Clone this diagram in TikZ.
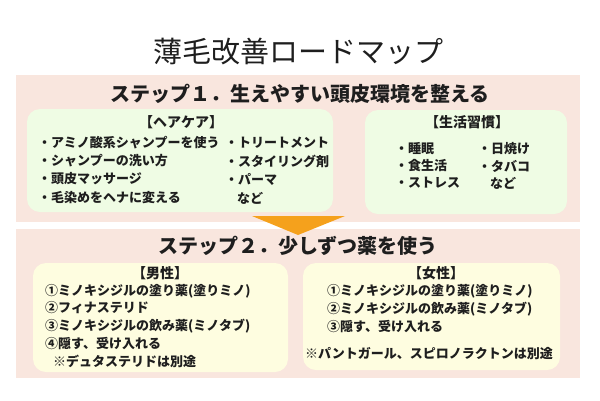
\documentclass[tikz,border=0pt]{standalone}
\usepackage{fontspec}
\setmainfont{Noto Sans CJK JP}
\usepackage{xcolor}
\usetikzlibrary{positioning}
\definecolor{bandpink}{HTML}{F9E6DE}
\definecolor{boxgreen}{HTML}{EFFCE4}
\definecolor{boxyellow}{HTML}{FEFDE0}
\definecolor{arroworange}{HTML}{F5A11C}
\definecolor{inkgray}{HTML}{1E1E1E}

\begin{document}
\begin{tikzpicture}[x=1pt, y=-1pt, every node/.style={inner sep=0pt, text=inkgray},
	carebox/.style={fill=boxgreen, rounded corners=13pt},
	medbox/.style={fill=boxyellow, rounded corners=13pt},
	item/.style={anchor=west, font=\bfseries\fontsize{13}{15}\selectfont},
	header/.style={font=\bfseries\fontsize{14}{16}\selectfont},
	steptitle/.style={font=\bfseries\fontsize{20}{22}\selectfont}]
					
					\useasboundingbox (0,0) rectangle (600,400);
					
					% Bands
					\fill[bandpink] (16,75) rectangle (580,222);
					\fill[bandpink] (16,229) rectangle (580,378);
					
					% Boxes
					\fill[carebox] (27,109) rectangle (333,212);
					\fill[carebox] (365,110) rectangle (567,214);
					\fill[medbox] (33,263) rectangle (288,372);
					\fill[medbox] (303,263) rectangle (560,370);
					
					% Arrow
					\fill[arroworange] (252,216) -- (345,216) -- (298,235) -- cycle;
					
					% Titles
					\node[font=\fontsize{29}{32}\selectfont] (title) at (298,52) {薄毛改善ロードマップ};
					\node[steptitle] (step1) at (300,94) {ステップ１．生えやすい頭皮環境を整える};
					\node[steptitle] (step2) at (298,246) {ステップ２．少しずつ薬を使う};
					
					% Nodes in care box
					\node[header] (care) at (181,122) {【ヘアケア】};
					\node[item] (care1) at (38,143) {・アミノ酸系シャンプーを使う};
					\node[item] (care2) at (38,161) {・シャンプーの洗い方};
					\node[item] (care3) at (38,179) {・頭皮マッサージ};
					\node[item] (care4) at (38,198) {・毛染めをヘナに変える};
					\node[item] (care5) at (225,143) {・トリートメント};
					\node[item] (care6) at (225,161) {・スタイリング剤};
					\node[item] (care7) at (225,179) {・パーマ};
					\node[item] (care8) at (237,198) {など};
					
					% Nodes in life box
					\node[header] (life) at (467,122) {【生活習慣】};
					\node[item] (life1) at (395,149) {・睡眠};
					\node[item] (life2) at (395,166) {・食生活};
					\node[item] (life3) at (395,183) {・ストレス};
					\node[item] (life4) at (478,149) {・日焼け};
					\node[item] (life5) at (478,166) {・タバコ};
					\node[item] (life6) at (490,183) {など};
					
					% Nodes in male box
					\node[header] (male) at (160,273) {【男性】};
					\node[item] (male1) at (45,291) {①ミノキシジルの塗り薬(塗りミノ)};
					\node[item] (male2) at (45,308) {②フィナステリド};
					\node[item] (male3) at (45,326) {③ミノキシジルの飲み薬(ミノタブ)};
					\node[item] (male4) at (45,344) {④隠す、受け入れる};
					\node[item] (male5) at (53,361) {※デュタステリドは別途};
					
					% Nodes in female box
					\node[header] (fem) at (436,273) {【女性】};
					\node[item] (fem1) at (327,291) {①ミノキシジルの塗り薬(塗りミノ)};
					\node[item] (fem2) at (327,309) {②ミノキシジルの飲み薬(ミノタブ)};
					\node[item] (fem3) at (327,327) {③隠す、受け入れる};
					\node[item] (fem4) at (305,354) {※パントガール、スピロノラクトンは別途};
					
			\end{tikzpicture}
\end{document}
